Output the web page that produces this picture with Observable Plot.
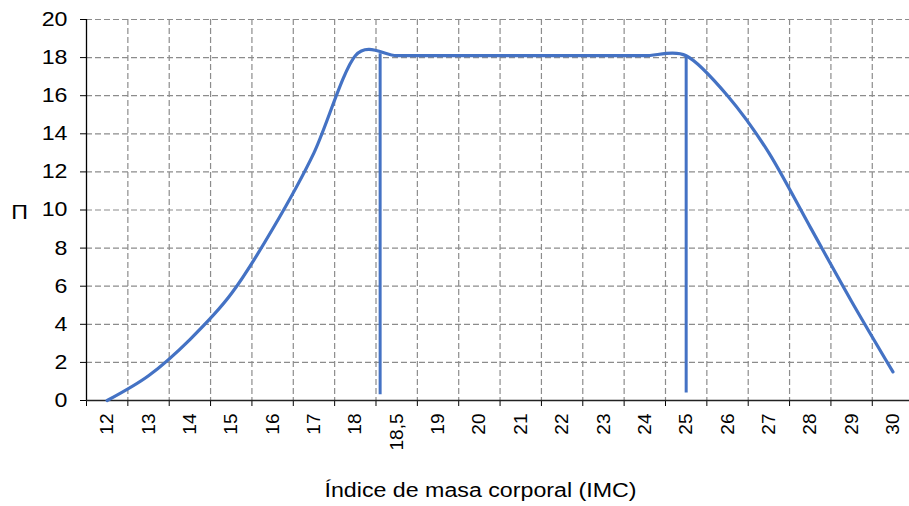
<!DOCTYPE html>
<html><head><meta charset="utf-8">
<script src="https://cdn.jsdelivr.net/npm/d3@7"></script>
<script src="https://cdn.jsdelivr.net/npm/@observablehq/plot@0.6"></script>
<style>body{margin:0;background:#fff}</style>
</head><body><div id="chart"></div>
<script>
const categories = ["12","13","14","15","16","17","18","18,5","19","20","21","22","23","24","25","26","27","28","29","30"];
const values = [0, 1.3, 3.2, 5.6, 9.0, 13.0, 18.1, 18.1, 18.1, 18.1, 18.1, 18.1, 18.1, 18.1, 18.1, 16.0, 13.0, 9.1, 5.2, 1.5];
const yTicks = [0, 2, 4, 6, 8, 10, 12, 14, 16, 18, 20];
const limitPos = [6.6, 14];      // category-index position of the two vertical limit lines
const limitBottom = [0.3, 0.4];
const limitTop = [18.2, 18.05];
const yLabel = "П";
const xLabel = "Índice de masa corporal (IMC)";

const idx = categories.map((_, i) => i);
const boundaries = [-0.5, ...idx.slice(0, -1).map(i => i + 0.5)];
const series = categories.map((c, i) => ({i, c, v: values[i]}));
const limits = limitPos.map((x, k) => ({x, y1: limitBottom[k], y2: limitTop[k]}));

const gridStyle = {stroke: "#8c8c8c", strokeOpacity: 1, strokeDasharray: "6,3", strokeWidth: 1.2};

const chart = Plot.plot({
  width: 909, height: 506,
  marginLeft: 86, marginRight: 0, marginTop: 19, marginBottom: 106,
  x: {type: "linear", domain: [-0.5, 19.4]},
  y: {domain: [0, 20]},
  style: {fontFamily: "'Liberation Sans', Arial, sans-serif", fontSize: "20px", color: "#000", background: "#fff"},
  marks: [
    Plot.gridY(yTicks.filter(d => d > 0), gridStyle),
    Plot.gridX(boundaries.slice(1), gridStyle),
    Plot.axisY(yTicks, {tickSize: 6, tickPadding: 13, label: null, fontSize: 20}),
    Plot.axisX(idx, {tickSize: 0, tickPadding: 13, tickRotate: -90, tickFormat: i => categories[i], label: null, fontSize: 19}),
    Plot.axisX(boundaries, {tickSize: 6, tickFormat: () => "", label: null}),
    Plot.ruleY([0], {stroke: "#222", strokeWidth: 1.3}),
    Plot.ruleX([-0.5], {stroke: "#000", strokeWidth: 1.3}),
    Plot.line(series, {x: "i", y: "v", curve: "cardinal", tension: 0.12, stroke: "#4472C4", strokeWidth: 3.2}),
    Plot.ruleX(limits, {x: "x", y1: "y1", y2: "y2", stroke: "#4472C4", strokeWidth: 3}),
    Plot.text([yLabel], {frameAnchor: "left", dx: -67, dy: 3, textAnchor: "middle", fontSize: 20}),
    Plot.text([xLabel], {frameAnchor: "bottom", dx: -17.5, dy: 96, lineAnchor: "bottom", textAnchor: "middle", fontSize: 20})
  ]
});
document.getElementById("chart").append(chart);

// the reference's horizontal text is slightly wide; stretch glyphs horizontally
d3.select(chart).selectAll('g[aria-label="y-axis tick label"] text, g[aria-label="text"] text').each(function() {
  const L = this.getComputedTextLength();
  this.setAttribute("textLength", (L * 1.16).toFixed(1));
  this.setAttribute("lengthAdjust", "spacingAndGlyphs");
});
</script>
</body></html>
